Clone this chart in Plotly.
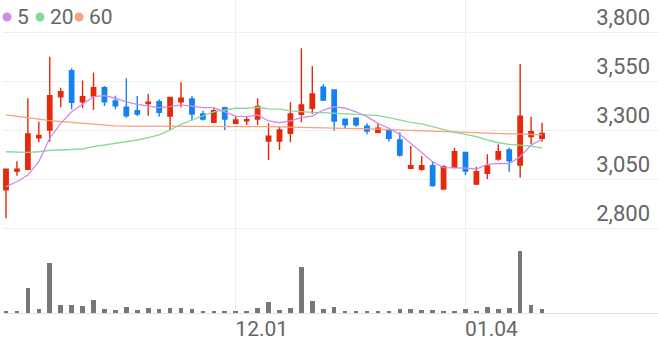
import plotly.graph_objects as go

# ---- data ----
opens  = [2995, 3090, 3100, 3260, 3300, 3470, 3603, 3444, 3473, 3516,
          3448, 3416, 3398, 3435, 3444, 3371, 3444, 3458, 3382, 3339,
          3414, 3334, 3347, 3356, 3244, 3244, 3283, 3380, 3411, 3518,
          3504, 3355, 3360, 3320, 3288, 3300, 3249, 3105, 3100, 3118,
          2999, 3110, 3186, 3024, 3079, 3152, 3198, 3121, 3266, 3258]
highs  = [3100, 3140, 3462, 3342, 3674, 3515, 3615, 3552, 3594, 3525,
          3475, 3564, 3473, 3484, 3457, 3466, 3543, 3473, 3398, 3411,
          3418, 3371, 3368, 3462, 3334, 3317, 3441, 3717, 3627, 3533,
          3504, 3358, 3365, 3334, 3334, 3303, 3288, 3218, 3167, 3142,
          3120, 3210, 3189, 3113, 3176, 3227, 3210, 3637, 3368, 3337]
lows   = [2850, 3067, 3095, 3237, 3240, 3416, 3406, 3411, 3402, 3422,
          3406, 3363, 3371, 3373, 3368, 3300, 3416, 3348, 3348, 3336,
          3300, 3331, 3326, 3326, 3147, 3198, 3237, 3339, 3382, 3448,
          3297, 3309, 3316, 3278, 3283, 3240, 3164, 3105, 3092, 3011,
          2999, 3105, 3070, 3019, 3050, 3143, 3087, 3057, 3229, 3240]
closes = [3100, 3100, 3280, 3272, 3475, 3495, 3441, 3470, 3516, 3444,
          3424, 3373, 3382, 3442, 3390, 3466, 3462, 3382, 3356, 3398,
          3356, 3351, 3352, 3420, 3269, 3300, 3382, 3428, 3484, 3453,
          3346, 3326, 3326, 3295, 3309, 3258, 3172, 3118, 3118, 3016,
          3113, 3189, 3091, 3087, 3116, 3189, 3143, 3371, 3291, 3283]

ma5  = [3011, 3036, 3070, 3138, 3258, 3334, 3393, 3431, 3470, 3475,
        3462, 3444, 3431, 3422, 3414, 3419, 3428, 3422, 3414, 3414,
        3393, 3371, 3368, 3377, 3346, 3337, 3346, 3363, 3371, 3402,
        3419, 3411, 3393, 3368, 3334, 3309, 3278, 3232, 3189, 3138,
        3108, 3108, 3105, 3101, 3125, 3130, 3128, 3164, 3223, 3253]
ma20 = [3189, 3186, 3186, 3189, 3196, 3198, 3200, 3203, 3215, 3223,
        3232, 3240, 3249, 3261, 3275, 3300, 3329, 3351, 3373, 3393,
        3402, 3411, 3411, 3416, 3408, 3406, 3398, 3393, 3390, 3389,
        3385, 3382, 3380, 3377, 3373, 3363, 3351, 3339, 3331, 3317,
        3300, 3288, 3278, 3266, 3249, 3235, 3227, 3223, 3218, 3207]
ma60 = [3377, 3371, 3363, 3356, 3348, 3343, 3338, 3334, 3329, 3324,
        3321, 3320, 3320, 3320, 3320, 3320, 3320, 3320, 3320, 3320,
        3320, 3319, 3318, 3317, 3317, 3316, 3315, 3314, 3313, 3312,
        3310, 3309, 3308, 3306, 3304, 3302, 3300, 3298, 3296, 3295,
        3293, 3291, 3289, 3287, 3285, 3283, 3281, 3279, 3277, 3275]

volumes = [23, 23, 253, 40, 497, 77, 77, 70, 127, 40,
           30, 60, 30, 47, 37, 53, 47, 40, 20, 20,
           20, 20, 23, 53, 107, 30, 53, 463, 123, 40,
           57, 23, 23, 23, 23, 23, 37, 37, 30, 30,
           23, 20, 37, 23, 57, 40, 47, 620, 80, 37]

idx = list(range(len(closes)))
x_tick_pos = [21, 42]
x_tick_labels = ["12.01", "01.04"]
price_ticks = [2800, 3050, 3300, 3550, 3800]
ma_names = ["5", "20", "60"]
ma_colors = ["#cf8bea", "#86d89b", "#f6a27c"]

RED = "#e4290c"
BLUE = "#1581f0"
GRID = "#efefef"
TXT = "#666666"

fig = go.Figure()

fig.add_trace(go.Candlestick(
    x=idx, open=opens, high=highs, low=lows, close=closes,
    increasing=dict(line=dict(color=RED, width=1.4), fillcolor=RED),
    decreasing=dict(line=dict(color=BLUE, width=1.4), fillcolor=BLUE),
    whiskerwidth=0, xaxis="x", yaxis="y", showlegend=False, hoverinfo="skip"))

for vals, col in zip([ma60, ma20, ma5], [ma_colors[2], ma_colors[1], ma_colors[0]]):
    fig.add_trace(go.Scatter(x=idx, y=vals, mode="lines",
                             line=dict(color=col, width=1.3),
                             xaxis="x", yaxis="y", showlegend=False, hoverinfo="skip"))

fig.add_trace(go.Bar(x=idx, y=volumes, marker=dict(color="#777777", line=dict(width=0)),
                     width=0.42, xaxis="x", yaxis="y2", showlegend=False, hoverinfo="skip"))

PH = 313.0
PW = 655.0

# legend: coloured dots + labels
dot_px = [7, 40, 79]
for name, col, px in zip(ma_names, ma_colors, dot_px):
    cx = (px - 3) / PW
    cy = (PH - 17) / PH
    fig.add_shape(type="circle", xref="paper", yref="paper",
                  xsizemode="pixel", ysizemode="pixel", xanchor=cx, yanchor=cy,
                  x0=-4.5, x1=4.5, y0=-4.5, y1=4.5,
                  fillcolor=col, line=dict(width=0))
    fig.add_annotation(
        xref="paper", yref="paper", x=(px + 8 - 3) / PW, y=cy,
        xanchor="left", yanchor="middle", showarrow=False,
        text=name, font=dict(family="Roboto", size=21, color=TXT))

split = 235.0
upp = 1000.0 / 196.0
y_top = 3800 + 32 * upp
y_bot = 2800 - (split - 228) * upp

fig.update_layout(
    width=658, height=342,
    margin=dict(l=3, r=0, t=0, b=29, autoexpand=False),
    paper_bgcolor="white", plot_bgcolor="white",
    font=dict(family="Roboto", color=TXT),
    boxgap=0.6, boxgroupgap=0,
    bargap=0,
    xaxis=dict(anchor="y2", range=[-0.274, 59.6], tickvals=x_tick_pos, ticktext=x_tick_labels,
               showgrid=True, gridcolor=GRID, gridwidth=1, zeroline=False,
               showline=True, linecolor="#e3e3e3", linewidth=1, ticks="",
               tickfont=dict(size=21, color=TXT), ticklabelshift=26, ticklabelstandoff=-3,
               automargin=False,
               rangeslider=dict(visible=False), fixedrange=True),
    yaxis=dict(domain=[(PH - split) / PH, 1], range=[y_bot, y_top], anchor="x",
               side="right", tickvals=price_ticks, tickformat=",", automargin=False,
               ticklabelposition="inside", ticklabelshift=-15, ticklabelstandoff=5,
               showgrid=True, gridcolor=GRID, gridwidth=1, zeroline=False,
               tickfont=dict(size=22, color=TXT), ticks=""),
    yaxis2=dict(domain=[0, (PH - split) / PH], range=[0, 620 * 78 / 62], anchor="x",
                automargin=False,
                showgrid=False, zeroline=False, showticklabels=False, ticks=""),
)

fig.write_html("out.html")
